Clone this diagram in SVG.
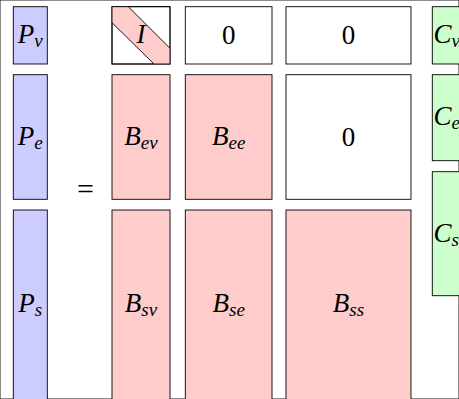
<svg xmlns="http://www.w3.org/2000/svg" width="459" height="399" viewBox="0 0 459 399">
<style>
rect, polygon { stroke: #000; stroke-width: 0.9; }
.b { fill: #ccccff; }
.r { fill: #ffcccc; }
.g { fill: #ccffcc; }
.w { fill: #ffffff; }
text { font-family: "Liberation Serif", "Times New Roman", serif; font-size: 27px; text-anchor: middle; fill: #000; }
.m { font-style: italic; }
.s { font-size: 19px; }
.c { text-anchor: start; }
line { stroke: #000; stroke-width: 0.9; }
</style>
<rect width="459" height="399" fill="#fff" stroke="none"/>
<g id="Pv"><rect class="b" x="13.3" y="6.7" width="34" height="57.3"/><text class="m" x="30.3" y="43">P<tspan class="s" dy="4">v</tspan></text></g>
<g id="Pe"><rect class="b" x="13.3" y="74.7" width="34" height="124.6"/><text class="m" x="30.3" y="145">P<tspan class="s" dy="4">e</tspan></text></g>
<g id="Ps"><rect class="b" x="13.3" y="210" width="34" height="192"/><text class="m" x="30.3" y="312">P<tspan class="s" dy="4">s</tspan></text></g>
<g id="eq"><text x="85.5" y="199" style="font-size:30px">=</text></g>
<g id="I">
<rect class="w" x="112" y="6.7" width="58" height="57.3"/>
<polygon class="r" points="112,6.7 128.3,6.7 170,48.3 170,64 154,64 112,22.7" style="stroke:none"/>
<line x1="128.3" y1="6.7" x2="170" y2="48.3"/>
<line x1="112" y1="22.7" x2="154" y2="64"/>
<rect x="112" y="6.7" width="58" height="57.3" fill="none"/>
<text class="m" x="141" y="43">I</text>
</g>
<g id="Z12"><rect class="w" x="185.3" y="6.7" width="86.7" height="57.3"/><text x="228.7" y="44">0</text></g>
<g id="Z13"><rect class="w" x="286" y="6.7" width="125" height="57.3"/><text x="348.5" y="44">0</text></g>
<g id="Bev"><rect class="r" x="112" y="74.7" width="58" height="124.6"/><text class="m" x="141" y="145">B<tspan class="s" dy="4">ev</tspan></text></g>
<g id="Bee"><rect class="r" x="185.3" y="74.7" width="86.7" height="124.6"/><text class="m" x="228.7" y="145">B<tspan class="s" dy="4">ee</tspan></text></g>
<g id="Z23"><rect class="w" x="286" y="74.7" width="125" height="124.6"/><text x="348.5" y="146">0</text></g>
<g id="Bsv"><rect class="r" x="112" y="210" width="58" height="192"/><text class="m" x="141" y="312">B<tspan class="s" dy="4">sv</tspan></text></g>
<g id="Bse"><rect class="r" x="185.3" y="210" width="86.7" height="192"/><text class="m" x="228.7" y="312">B<tspan class="s" dy="4">se</tspan></text></g>
<g id="Bss"><rect class="r" x="286" y="210" width="125" height="192"/><text class="m" x="348.5" y="312">B<tspan class="s" dy="4">ss</tspan></text></g>
<g id="Cv"><rect class="g" x="432.3" y="6.7" width="34" height="57.3"/><text class="m c" x="433.5" y="43">C<tspan class="s" dy="4">v</tspan></text></g>
<g id="Ce"><rect class="g" x="432.3" y="74.7" width="34" height="86"/><text class="m c" x="433.5" y="125">C<tspan class="s" dy="4">e</tspan></text></g>
<g id="Cs"><rect class="g" x="432.3" y="171.7" width="34" height="124"/><text class="m c" x="433.5" y="241.5">C<tspan class="s" dy="4">s</tspan></text></g>
</svg>
